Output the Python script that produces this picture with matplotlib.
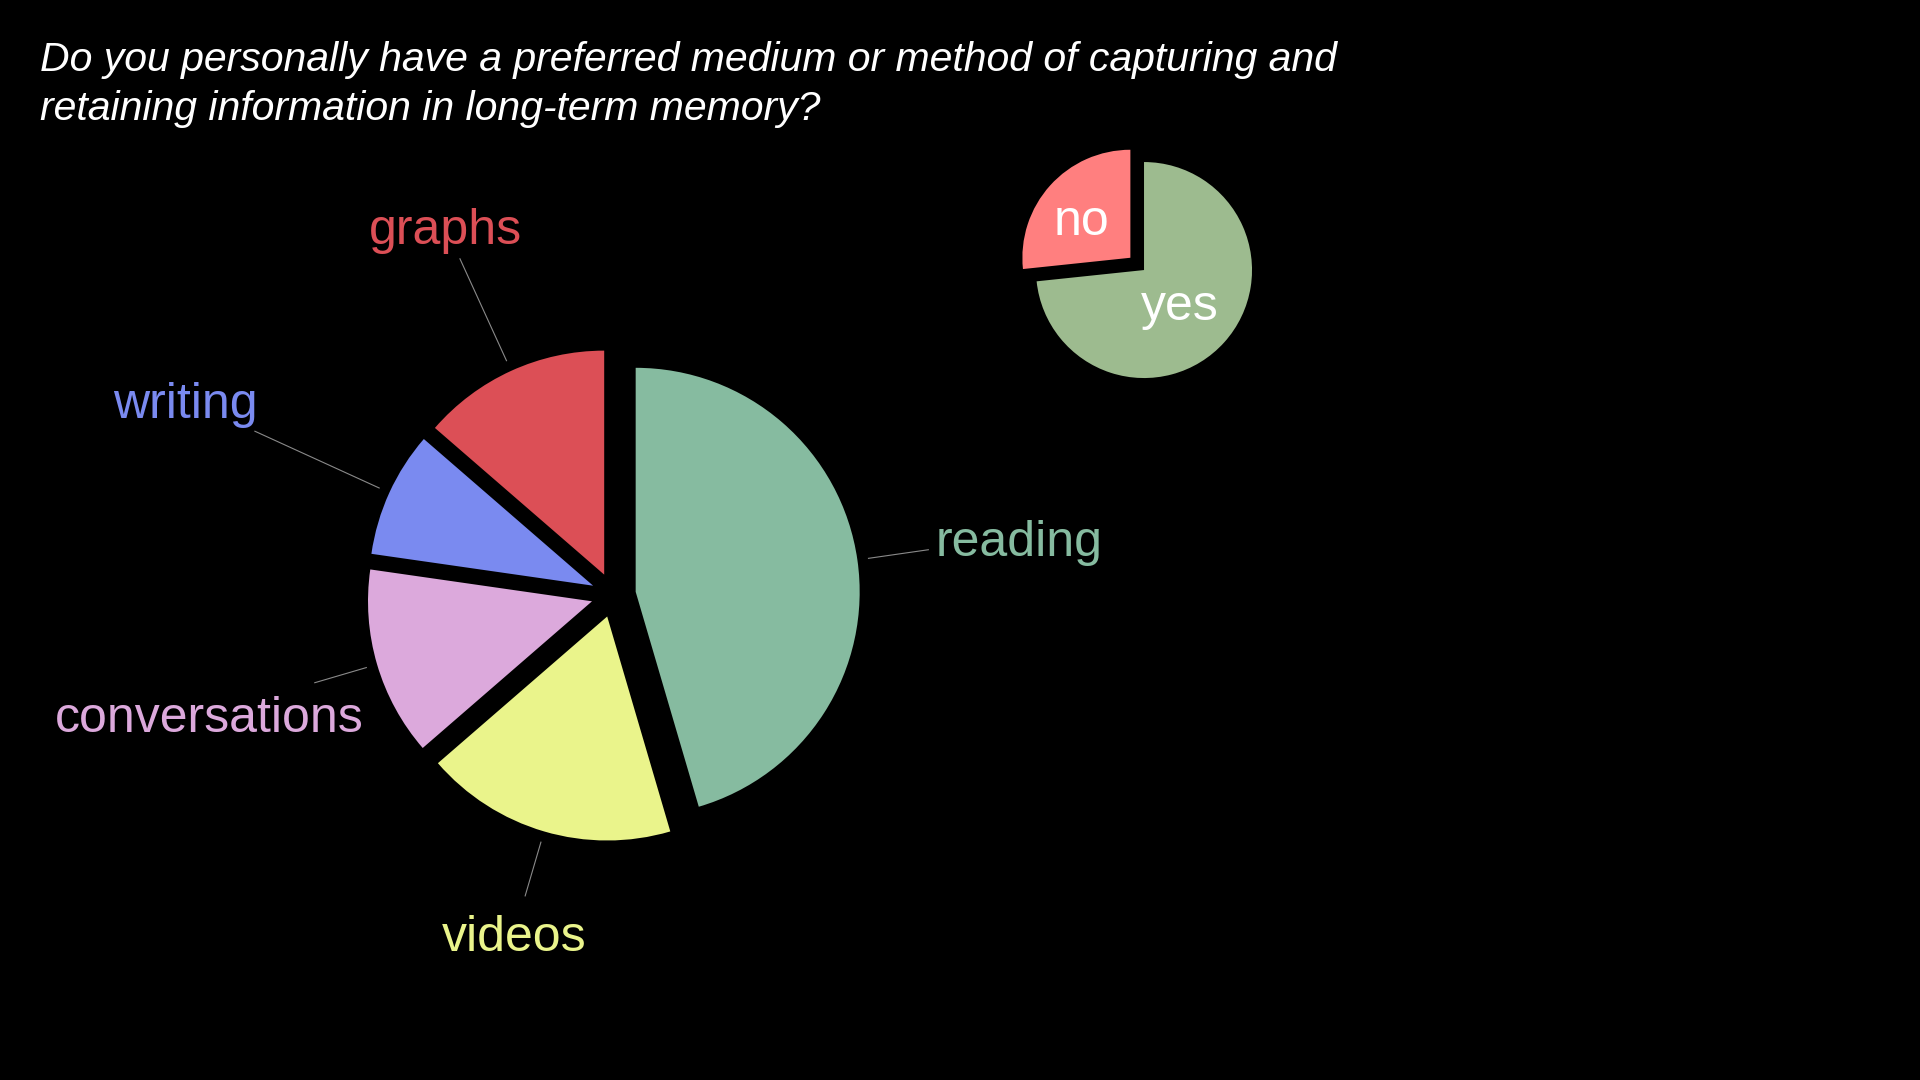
import numpy as np
import matplotlib
matplotlib.use('Agg')
import matplotlib.pyplot as plt

plt.rcParams['font.family'] = ['Liberation Sans', 'DejaVu Sans']

TITLE_LINES = ['Do you personally have a preferred medium or method of capturing and',
               'retaining information in long-term memory?']

# main pie: answers per medium
media = ['reading', 'videos', 'conversations', 'writing', 'graphs']
media_counts = [10, 4, 3, 2, 3]
media_colors = ['#86BBA0', '#EAF48B', '#DCA9DC', '#7A8AF0', '#DC4F56']

# small pie: yes / no
answers = ['yes', 'no']
answer_counts = [11, 4]
answer_colors = ['#9DBB8F', '#FF7F7F']

W, H = 1920, 1080
fig = plt.figure(figsize=(19.2, 10.8), dpi=100, facecolor='black')


def px_axes(cx, cy, unit, xr, yr):
    # axes whose data unit is `unit` pixels, centred on (cx, cy) from top-left
    left = cx - xr * unit
    bottom = (H - cy) - yr * unit
    ax = fig.add_axes([left / W, bottom / H, 2 * xr * unit / W, 2 * yr * unit / H])
    ax.axis('off')
    ax.set_facecolor('none')
    return ax


def fix_limits(ax, xr, yr):
    # pie() resets the limits, so put them back afterwards
    ax.set_xlim(-xr, xr)
    ax.set_ylim(-yr, yr)
    ax.set_aspect('equal')


# title
fig.text(40 / W, 1 - 71 / H, TITLE_LINES[0], color='white', fontsize=29.5,
         style='italic', ha='left', va='baseline')
fig.text(40 / W, 1 - 120 / H, TITLE_LINES[1], color='white', fontsize=29.5,
         style='italic', ha='left', va='baseline')

# main pie
ax = px_axes(613.5, 595, 224, 2.6, 2.2)
wedges, _ = ax.pie(media_counts, colors=media_colors, startangle=90,
                   counterclock=False, explode=[0.1] * len(media),
                   wedgeprops=dict(linewidth=0))
fix_limits(ax, 2.6, 2.2)

leader_end = [1.32, 1.30, 1.29, 1.66, 1.55]
label_place = [('left', (7, -6)), ('center', (-11, -55)), ('right', (49, -49)),
               ('right', (3, 13)), ('center', (-15, 15))]

for w, name, col, le, (ha, off) in zip(wedges, media, media_colors,
                                       leader_end, label_place):
    ang = np.deg2rad((w.theta1 + w.theta2) / 2)
    cx, cy = w.center
    d = np.array([np.cos(ang), np.sin(ang)])
    p0 = np.array([cx, cy]) + 1.05 * d
    p1 = np.array([cx, cy]) + le * d
    ax.plot([p0[0], p1[0]], [p0[1], p1[1]], color='#8a8a8a', lw=0.8,
            clip_on=False)
    ax.annotate(name, xy=p1, xytext=off, textcoords='offset pixels',
                color=col, fontsize=36, ha=ha, va='baseline',
                annotation_clip=False)

# small yes/no pie
ax2 = px_axes(1137.2, 263.9, 108, 1.5, 1.5)
wedges2, _ = ax2.pie(answer_counts, colors=answer_colors, startangle=90,
                     counterclock=False, explode=[0.085, 0.085],
                     wedgeprops=dict(linewidth=0))
fix_limits(ax2, 1.5, 1.5)
inner_dist = [0.45, 0.55]
inner_off = [(0, -4), (-5, -4)]
for w, name, dist, off in zip(wedges2, answers, inner_dist, inner_off):
    ang = np.deg2rad((w.theta1 + w.theta2) / 2)
    cx, cy = w.center
    pos = (cx + dist * np.cos(ang), cy + dist * np.sin(ang))
    ax2.annotate(name, xy=pos, xytext=off, textcoords='offset pixels',
                 color='white', fontsize=36, ha='center', va='center')

fig.savefig('out.png', dpi=100, facecolor='black')
